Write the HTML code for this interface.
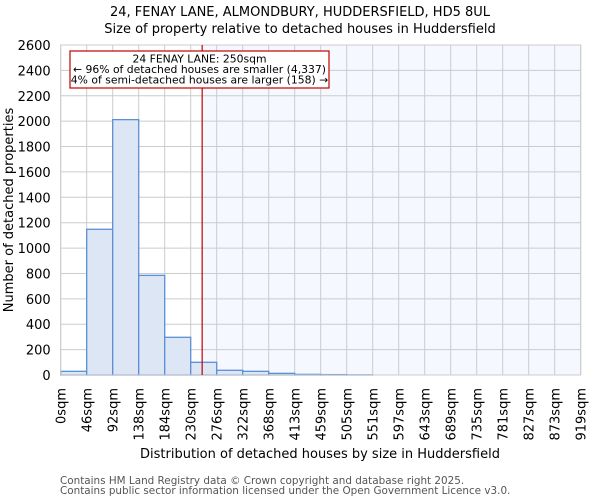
<!DOCTYPE html>
<html><head><meta charset="utf-8"><style>
body{margin:0;background:#fff;font-family:"DejaVu Sans","Liberation Sans",sans-serif}
</style></head><body>
<svg id="c" width="600" height="500" xmlns="http://www.w3.org/2000/svg" font-family="DejaVu Sans, Liberation Sans, sans-serif">
<text x="300" y="16" text-anchor="middle" font-size="13">24, FENAY LANE, ALMONDBURY, HUDDERSFIELD, HD5 8UL</text>
<text x="300" y="33" text-anchor="middle" font-size="13">Size of property relative to detached houses in Huddersfield</text>
<g id="plot"></g>
<text x="320" y="458" text-anchor="middle" font-size="13">Distribution of detached houses by size in Huddersfield</text>
<text transform="translate(13,210) rotate(-90)" text-anchor="middle" font-size="13">Number of detached properties</text>
<text x="60" y="484" font-size="10.4" fill="#555">Contains HM Land Registry data © Crown copyright and database right 2025.</text>
<text x="60" y="494" font-size="10.4" fill="#555">Contains public sector information licensed under the Open Government Licence v3.0.</text>
</svg>
<script>
const binLabels=["0sqm","46sqm","92sqm","138sqm","184sqm","230sqm","276sqm","322sqm","368sqm","413sqm","459sqm","505sqm","551sqm","597sqm","643sqm","689sqm","735sqm","781sqm","827sqm","873sqm","919sqm"];
const counts=[29,1148,2012,785,297,100,37,29,13,5,3,1,0,0,0,0,0,0,0,0];
const yTicks=[0,200,400,600,800,1000,1200,1400,1600,1800,2000,2200,2400,2600];
const binStart=0, binWidth=45.95, propSize=250;
const L=60.7,R=580.7,T=45,B=375,yMax=2600;
const NS="http://www.w3.org/2000/svg";
const g=document.getElementById('plot');
const xs=v=>L+(v-binStart)/(binWidth*counts.length)*(R-L);
const ys=v=>B-v/yMax*(B-T);
function mk(t,a,p){const e=document.createElementNS(NS,t);for(const k in a)e.setAttribute(k,a[k]);(p||g).appendChild(e);return e;}
let e;
e=mk('rect',{x:xs(propSize),y:T,width:R-xs(propSize),height:B-T,fill:'#f5f8fe'});


yTicks.forEach(v=>{
 e=mk('line',{x1:L,x2:R,y1:ys(v),y2:ys(v),stroke:'#cccccc','stroke-width':1});
 
 
 e=mk('text',{x:L-10,y:ys(v)+5,'text-anchor':'end','font-size':13});
 e.textContent=v;
 
 
});
binLabels.forEach((s,i)=>{
 const x=xs(binStart+i*binWidth);
 e=mk('line',{x1:x,x2:x,y1:T,y2:B,stroke:'#cccccc','stroke-width':1});
 
 
 e=mk('text',{transform:`translate(${x+5},388) rotate(-90)`,'text-anchor':'end','font-size':13});
 e.textContent=s;
 
 
});
counts.forEach((c,i)=>{
 const x0=xs(binStart+i*binWidth),x1=xs(binStart+(i+1)*binWidth);
 e=mk('rect',{x:x0,y:ys(c),width:x1-x0,height:B-ys(c),fill:'#dce6f4',stroke:'#5b8fd6','stroke-width':1.3});
 
 
});
e=mk('rect',{x:L,y:T,width:R-L,height:B-T,fill:'none',stroke:'#cccccc'});


e=mk('line',{x1:xs(propSize),x2:xs(propSize),y1:T,y2:B,stroke:'#c00000','stroke-width':1.2});


const ann=mk('g',{});


mk('rect',{x:70,y:51,width:259,height:37,fill:'#fff',stroke:'#c00000','stroke-width':1.2},ann);
["24 FENAY LANE: 250sqm","← 96% of detached houses are smaller (4,337)","4% of semi-detached houses are larger (158) →"].forEach((t,i)=>{
 const tx=mk('text',{x:199.5,y:62.5+i*10.5,'text-anchor':'middle','font-size':10.8},ann);
 tx.textContent=t;
 
 
});
</script>
</body></html>
